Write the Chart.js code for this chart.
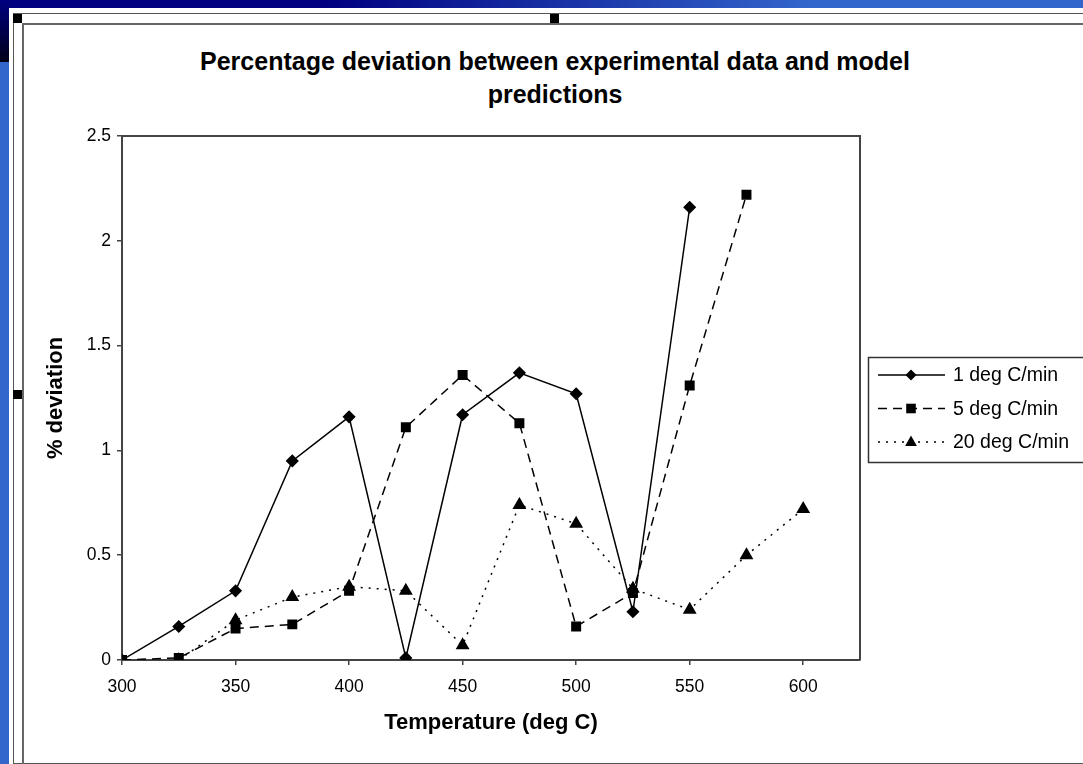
<!DOCTYPE html>
<html>
<head>
<meta charset="utf-8">
<script src="https://cdn.jsdelivr.net/npm/chart.js@4/dist/chart.umd.min.js"></script>
<style>
  body { margin: 0; width: 1083px; height: 764px; overflow: hidden; background: #3366cc; position: relative; font-family: "Liberation Sans", Arial, sans-serif; }
  #topband { position: absolute; left: 0; top: 0; width: 1083px; height: 8px; background: linear-gradient(to right, #000080 0%, #000080 30%, #3366cc 75%); }
  #corner { position: absolute; left: 0; top: 0; width: 9px; height: 62px; background: linear-gradient(#000080, #000018); }
  #panel { position: absolute; left: 9px; top: 8px; right: 0; bottom: 0; background: #fff; }
  #frame1 { position: absolute; left: 13px; top: 13px; width: 1090px; height: 749px; border: 1px solid #555; }
  #frame2 { position: absolute; left: 22px; top: 23px; width: 1090px; height: 760px; border-left: 2px solid #666; border-top: 2px solid #666; }
  .handle { position: absolute; width: 9px; height: 9px; background: #000; }
  #title { position: absolute; left: 0; width: 1110px; top: 45px; text-align: center; font-weight: bold; font-size: 25px; line-height: 33px; color: #000; }
  canvas { position: absolute; left: 0; top: 0; }
</style>
</head>
<body>
<div id="topband"></div>
<div id="corner"></div>
<div id="panel"></div>
<div id="frame1"></div>
<div id="frame2"></div>
<div class="handle" style="left:13px;top:14px"></div>
<div class="handle" style="left:550px;top:14px"></div>
<div class="handle" style="left:13px;top:390px"></div>
<div id="title">Percentage deviation between experimental data and model<br>predictions</div>
<canvas id="chart" width="1083" height="764"></canvas>
<script>
// temperatures (deg C) and % deviation
const temps1 = [300, 325, 350, 375, 400, 425, 450, 475, 500, 525, 550];
const dev1 = [0, 0.16, 0.33, 0.95, 1.16, 0.01, 1.17, 1.37, 1.27, 0.23, 2.16];

const temps5 = [300, 325, 350, 375, 400, 425, 450, 475, 500, 525, 550, 575];
const dev5 = [0, 0.01, 0.15, 0.17, 0.33, 1.11, 1.36, 1.13, 0.16, 0.32, 1.31, 2.22];

const temps20 = [325, 350, 375, 400, 425, 450, 475, 500, 525, 550, 575, 600];
const dev20 = [0, 0.19, 0.3, 0.35, 0.33, 0.07, 0.74, 0.65, 0.34, 0.24, 0.5, 0.72];

const seriesNames = ["1 deg C/min", "5 deg C/min", "20 deg C/min"];
const xTicks = [300, 350, 400, 450, 500, 550, 600];

const font = '"Liberation Sans", Arial, sans-serif';

function toPoints(xs, ys) {
  return xs.map((x, i) => ({ x: x, y: ys[i] }));
}

// frame round the plot area (top + right sides)
const frame = {
  id: "frame",
  beforeDatasetsDraw(chart) {
    const a = chart.chartArea, ctx = chart.ctx;
    ctx.save();
    ctx.strokeStyle = "#444";
    ctx.lineWidth = 2;
    ctx.beginPath();
    ctx.moveTo(a.left, a.top);
    ctx.lineTo(a.right, a.top);
    ctx.lineTo(a.right, a.bottom);
    ctx.stroke();
    ctx.restore();
  }
};

function marker(ctx, style, x, y, r) {
  ctx.beginPath();
  if (style === "rectRot") {
    ctx.moveTo(x, y - r); ctx.lineTo(x + r, y); ctx.lineTo(x, y + r); ctx.lineTo(x - r, y);
  } else if (style === "rect") {
    ctx.rect(x - r * 0.8, y - r * 0.8, r * 1.6, r * 1.6);
  } else {
    ctx.moveTo(x, y - r); ctx.lineTo(x + r * 0.9, y + r * 0.6); ctx.lineTo(x - r * 0.9, y + r * 0.6);
  }
  ctx.closePath();
  ctx.fill();
}

// Excel style boxed legend on the right
const boxLegend = {
  id: "boxLegend",
  afterDraw(chart) {
    const ctx = chart.ctx;
    ctx.save();
    ctx.strokeStyle = "#333";
    ctx.lineWidth = 1.5;
    ctx.strokeRect(868.5, 357.5, 240, 105);
    ctx.font = "19.5px " + font;
    ctx.textBaseline = "middle";
    chart.data.datasets.forEach((ds, i) => {
      const y = 375 + i * 33.5;
      ctx.strokeStyle = "#000";
      ctx.lineWidth = 1.5;
      ctx.setLineDash(ds.borderDash || []);
      ctx.beginPath();
      ctx.moveTo(878, y);
      ctx.lineTo(945, y);
      ctx.stroke();
      ctx.setLineDash([]);
      ctx.fillStyle = "#000";
      marker(ctx, ds.pointStyle, 911, y, ds.pointRadius);
      ctx.fillText(ds.label, 953, y + 1);
    });
    ctx.restore();
  }
};

const ctx = document.getElementById("chart").getContext("2d");

const chart = new Chart(ctx, {
  type: "line",
  data: {
    datasets: [
      {
        label: seriesNames[0],
        data: toPoints(temps1, dev1),
        borderColor: "#000",
        backgroundColor: "#000",
        borderWidth: 1.5,
        pointStyle: "rectRot",
        pointRadius: 5.5,
      },
      {
        label: seriesNames[1],
        data: toPoints(temps5, dev5),
        borderColor: "#000",
        backgroundColor: "#000",
        borderWidth: 1.5,
        borderDash: [9, 6],
        pointStyle: "rect",
        pointRadius: 6,
      },
      {
        label: seriesNames[2],
        data: toPoints(temps20, dev20),
        borderColor: "#000",
        backgroundColor: "#000",
        borderWidth: 1.5,
        borderDash: [2, 6],
        pointStyle: "triangle",
        pointRadius: 6.5,
      },
    ],
  },
  options: {
    responsive: false,
    animation: false,
    layout: { padding: { left: 40, right: 223, top: 136, bottom: 0 } },
    elements: { line: { tension: 0 }, point: { borderWidth: 0 } },
    scales: {
      x: {
        type: "linear",
        min: 300,
        max: 625,
        afterBuildTicks: s => { s.ticks = xTicks.map(v => ({ value: v })); },
        afterFit: s => { s.height = 104; },
        grid: { drawOnChartArea: false, tickLength: 5, color: "#444", lineWidth: 1.5 },
        border: { color: "#444", width: 2 },
        ticks: { color: "#000", padding: 12, font: { family: font, size: 17.5 } },
        title: {
          display: true,
          text: "Temperature (deg C)",
          color: "#000",
          padding: { top: 0, bottom: 28 },
          font: { family: font, size: 22, weight: "bold" },
        },
      },
      y: {
        min: 0,
        max: 2.5,
        ticks: {
          stepSize: 0.5,
          color: "#000",
          padding: 6,
          font: { family: font, size: 17.5 },
          callback: v => String(v),
        },
        afterFit: s => { s.width = 82; },
        grid: { drawOnChartArea: false, tickLength: 5, color: "#444", lineWidth: 1.5 },
        border: { color: "#444", width: 2 },
        title: {
          display: true,
          text: "% deviation",
          color: "#000",
          padding: { top: 3, bottom: 0 },
          font: { family: font, size: 22, weight: "bold" },
        },
      },
    },
    plugins: {
      legend: { display: false },
      tooltip: { enabled: false },
    },
  },
  plugins: [frame, boxLegend],
});
</script>
</body>
</html>
